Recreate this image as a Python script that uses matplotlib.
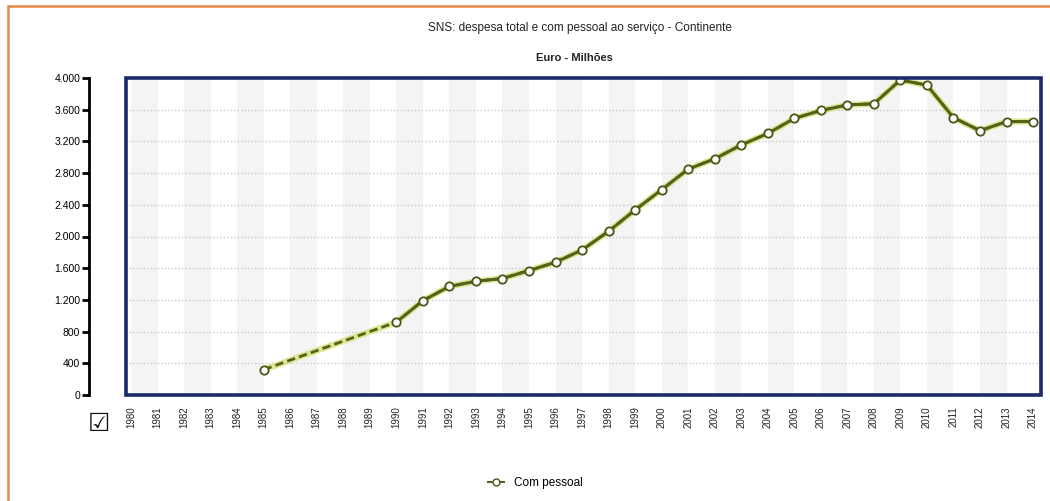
import numpy as np
import matplotlib
matplotlib.use("Agg")
import matplotlib.pyplot as plt
from matplotlib.patches import Rectangle
from matplotlib.lines import Line2D

# Series: SNS personnel expenditure, mainland Portugal (EUR millions)
years = list(range(1980, 2015))
com_pessoal = [np.nan, np.nan, np.nan, np.nan, np.nan,   # 1980-1984
               320,                                      # 1985
               np.nan, np.nan, np.nan, np.nan,           # 1986-1989
               920, 1190, 1370, 1435, 1470,              # 1990-1994
               1570, 1675, 1830, 2065, 2335,             # 1995-1999
               2590, 2850, 2980, 3155, 3300,             # 2000-2004
               3490, 3590, 3660, 3675, 3975,             # 2005-2009
               3910, 3500, 3335, 3450, 3450]             # 2010-2014

title = "SNS: despesa total e com pessoal ao serviço - Continente"
subtitle = "Euro - Milhões"
series_label = "Com pessoal"
y_ticks = [0, 400, 800, 1200, 1600, 2000, 2400, 2800, 3200, 3600, 4000]
y_ticklabels = ["0", "400", "800", "1.200", "1.600", "2.000", "2.400",
                "2.800", "3.200", "3.600", "4.000"]

plt.rcParams['font.family'] = ['Liberation Sans', 'DejaVu Sans']

W, H = 1050, 501
fig = plt.figure(figsize=(W / 100, H / 100), dpi=100)
fig.patch.set_facecolor("white")

# outer orange frame
fig.patches.append(Rectangle((8 / W, -0.05), 1.2, 1 - 6 / H + 0.05,
                             transform=fig.transFigure, fill=False,
                             ec="#e58a4a", lw=1.8, zorder=0))

ax = fig.add_axes([126 / W, 1 - 395 / H, (1041 - 126) / W, (395 - 78) / H])
ax.set_xlim(1979.81, 2014.3)
ax.set_ylim(0, 4000)

# alternating vertical bands
for i, yr in enumerate(years[:-1]):
    if i % 2 == 0:
        ax.axvspan(yr, yr + 1, color="#f4f4f4", lw=0, zorder=0)

# dotted horizontal grid
for v in y_ticks[1:-1]:
    ax.axhline(v, color="#c8c8c8", lw=1.0, ls=(0, (1, 1.5)), zorder=1)

x = np.array(years, dtype=float)
y = np.array(com_pessoal, dtype=float)
ok = ~np.isnan(y)

halo = "#d9e27a"
core = "#55621a"
# dashed bridge across missing years
ax.plot(x[ok], y[ok], color=halo, lw=4.5, solid_capstyle="round", zorder=2, alpha=0.8)
ax.plot(x[ok], y[ok], color=core, lw=2.0, ls=(0, (3, 1.5)), zorder=3)
# solid line where consecutive years exist
ax.plot(x, y, color=core, lw=2.2, zorder=4)
ax.plot(x[ok], y[ok], ls="none", marker="o", ms=6, mfc="white",
        mec="#4b5616", mew=1.3, zorder=5)

# y axis detached to the left
ax.spines["left"].set_position(("outward", 27))
ax.spines["left"].set_color("black")
ax.spines["left"].set_linewidth(2.0)
for s in ("top", "right", "bottom"):
    ax.spines[s].set_visible(False)
ax.set_yticks(y_ticks)
ax.set_yticklabels(y_ticklabels)
ax.tick_params(axis="y", direction="out", length=5, width=2, pad=1,
               labelsize=7.5, colors="black")

ax.set_xticks(years)
ax.set_xticklabels([str(v) for v in years], rotation=90)
ax.tick_params(axis="x", length=0, pad=8, labelsize=7, colors="#222222")

# plot box border
ax.add_patch(Rectangle((0, 0), 1, 1, transform=ax.transAxes, fill=False,
                       ec="#1b2a6b", lw=2.6, zorder=10, clip_on=False))

fig.text(580 / W, 1 - 28 / H, title, ha="center", va="center",
         fontsize=8.5, color="#222222")
fig.text(574 / W, 1 - 58 / H, subtitle, ha="center", va="center",
         fontsize=8, color="#222222", fontweight="bold")

# checkbox glyph
fig.text(99 / W, 1 - 424 / H, "\u2611", ha="center", va="center",
         fontsize=18, color="#111111", family=["DejaVu Sans"])

handle = Line2D([], [], color=core, lw=1.5, marker="o", ms=5, mfc="white",
                mec="#4b5616")
fig.legend([handle], [series_label], loc="center", bbox_to_anchor=(535 / W, 1 - 483 / H),
           frameon=False, fontsize=8.5, handlelength=1.4, handletextpad=0.8)

fig.savefig("out.png", dpi=100)
